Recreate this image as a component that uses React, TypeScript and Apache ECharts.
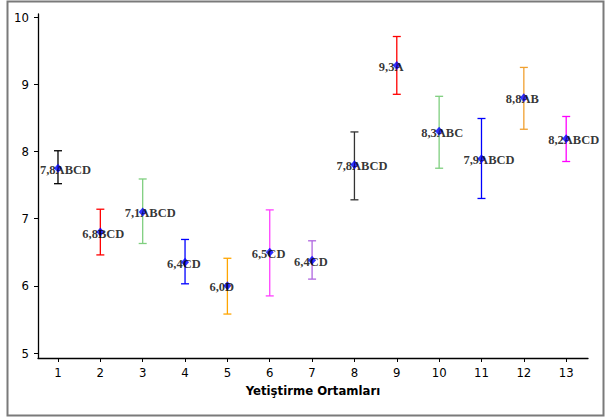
import React, { useEffect, useRef } from "react";
import * as echarts from "echarts";

const categories = [1, 2, 3, 4, 5, 6, 7, 8, 9, 10, 11, 12, 13];
const means = [7.75, 6.8, 7.1, 6.35, 6.0, 6.5, 6.38, 7.8, 9.28, 8.3, 7.89, 8.8, 8.19];
const lows = [7.52, 6.46, 6.63, 6.03, 5.58, 5.85, 6.1, 7.28, 8.85, 7.75, 7.3, 8.33, 7.85];
const highs = [8.01, 7.14, 7.59, 6.69, 6.41, 7.13, 6.67, 8.29, 9.71, 8.82, 8.49, 9.25, 8.52];
const pointLabels = [
  "7,8ABCD", "6,8BCD", "7,1ABCD", "6,4CD", "6,0D", "6,5CD", "6,4CD",
  "7,8ABCD", "9,3A", "8,3ABC", "7,9ABCD", "8,8AB", "8,2ABCD",
];
const barColors = [
  "#000000", "#ff0000", "#7fcf7f", "#0000ff", "#ffa500", "#ff40ff", "#b066e0",
  "#333333", "#ff0000", "#7fcf7f", "#0000ff", "#f0a030", "#ff00ff",
];
const yTicks = [5, 6, 7, 8, 9, 10];
const xTitle = "Yetiştirme Ortamları";

const sansFont = "'DejaVu Sans Condensed', 'Liberation Sans', sans-serif";

export default function App() {
  const ref = useRef<HTMLDivElement>(null);
  useEffect(() => {
    document.body.style.margin = "0";
    const chart = echarts.init(ref.current!, null, { renderer: "svg" });
    const errData = categories.map((c, i) => [c, lows[i], highs[i], i]);
    const ptData = categories.map((c, i) => [c, means[i], i]);
    chart.setOption({
      animation: false,
      backgroundColor: "#ffffff",
      graphic: [
        {
          type: "rect",
          shape: { x: 7.5, y: 1.5, width: 596, height: 414 },
          style: { fill: "none", stroke: "#7a7a7a", lineWidth: 2 },
          silent: true,
        },
      ],
      grid: { left: 38, right: 17, top: 14, bottom: 60 },
      xAxis: {
        type: "value",
        min: 0.528,
        max: 13.515,
        splitLine: { show: false },
        axisLine: { lineStyle: { color: "#000", width: 1.3 } },
        axisTick: { show: true, length: 4, customValues: categories, lineStyle: { color: "#000" } },
        axisLabel: {
          customValues: categories,
          margin: 8,
          color: "#000",
          fontFamily: sansFont,
          fontSize: 13,
        },
        name: xTitle,
        nameLocation: "middle",
        nameGap: 26,
        nameTextStyle: { color: "#000", fontFamily: sansFont, fontWeight: "bold", fontSize: 13 },
      },
      yAxis: {
        type: "value",
        min: 4.926,
        max: 10.045,
        splitLine: { show: false },
        axisLine: { show: true, lineStyle: { color: "#000", width: 1.3 } },
        axisTick: { show: true, length: 4, customValues: yTicks, lineStyle: { color: "#000" } },
        axisLabel: {
          customValues: yTicks,
          margin: 9,
          color: "#000",
          fontFamily: sansFont,
          fontSize: 13,
        },
      },
      series: [
        {
          type: "custom",
          data: errData,
          encode: { x: 0, y: [1, 2] },
          z: 2,
          renderItem: (params: any, api: any) => {
            const x = api.value(0);
            const lo = api.coord([x, api.value(1)]);
            const hi = api.coord([x, api.value(2)]);
            const color = barColors[api.value(3)];
            const hw = 4;
            const style = { stroke: color, lineWidth: 1.3, fill: "none" };
            return {
              type: "group",
              children: [
                { type: "line", shape: { x1: lo[0], y1: lo[1], x2: hi[0], y2: hi[1] }, style },
                { type: "line", shape: { x1: hi[0] - hw, y1: hi[1], x2: hi[0] + hw, y2: hi[1] }, style },
                { type: "line", shape: { x1: lo[0] - hw, y1: lo[1], x2: lo[0] + hw, y2: lo[1] }, style },
              ],
            };
          },
        },
        {
          type: "scatter",
          data: ptData,
          symbol: "diamond",
          symbolSize: [8, 9],
          itemStyle: { color: "#0000ff" },
          z: 3,
          label: {
            show: true,
            position: "inside",
            align: "left",
            verticalAlign: "middle",
            offset: [-18, 1.5],
            formatter: (p: any) => pointLabels[p.value[2]],
            color: "#000",
            fontFamily: "'Liberation Serif', serif",
            fontWeight: "bold",
            fontSize: 12.5,
          },
        },
      ],
    });
    return () => chart.dispose();
  }, []);
  return <div ref={ref} style={{ width: 605, height: 418 }} />;
}
